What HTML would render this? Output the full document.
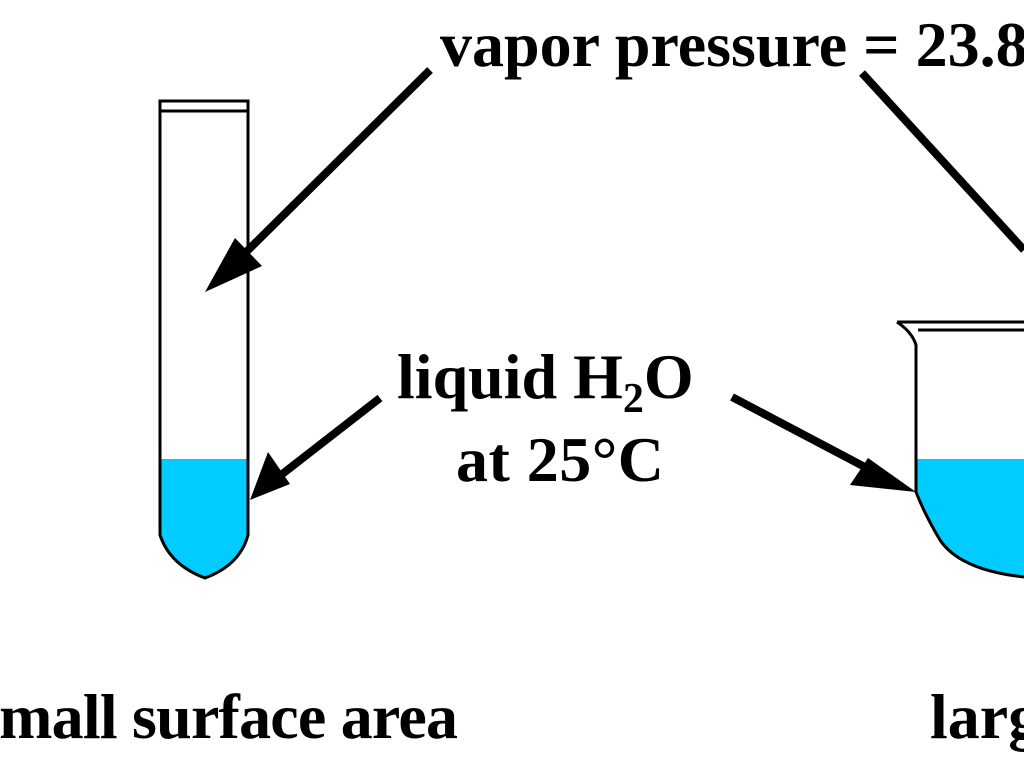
<!DOCTYPE html>
<html><head><style>
html,body{margin:0;padding:0;background:#fff;width:1024px;height:768px;overflow:hidden}
text{font-family:"Liberation Serif",serif;font-weight:bold;font-size:64px;fill:#000}
</style></head><body>
<svg width="1024" height="768" viewBox="0 0 1024 768" xmlns="http://www.w3.org/2000/svg">
<path d="M160 459 H248 V535 Q240 565 205 578 Q170 565 160 535 Z" fill="#00ccff"/>
<path d="M160 112 V535 Q170 565 205 578 Q240 565 248 535 V112" fill="none" stroke="#000" stroke-width="3"/>
<rect x="160" y="101" width="88" height="10" fill="none" stroke="#000" stroke-width="3"/>
<path d="M917 459 H1024 V577 Q960 570 940 540 Q925 515 917 492 Z" fill="#00ccff"/>
<path d="M897 322 H1024 M918 330 H1024 M897 322 Q912 332 916 345 V492 Q925 515 940 540 Q960 570 1024 577" fill="none" stroke="#000" stroke-width="3"/>
<g stroke="#000" stroke-width="8" fill="none">
<line x1="430" y1="70" x2="230" y2="268"/>
<line x1="380" y1="398" x2="272" y2="482"/>
<line x1="732" y1="397" x2="880" y2="475"/>
<line x1="862" y1="73" x2="1024" y2="250"/>
</g>
<g fill="#000">
<polygon points="205,292 235,238 262,266"/>
<polygon points="250,500 268,452 290,484"/>
<polygon points="916,492 868,458 850,485"/>
</g>
<text x="440" y="66">vapor pressure = 23.8 torr</text>
<text x="397" y="398">liquid H<tspan font-size="42" dy="14">2</tspan><tspan dy="-14">O</tspan></text>
<text x="456" y="481" textLength="208">at 25°C</text>
<text x="-25" y="738" font-size="62" textLength="483">small surface area</text>
<text x="930" y="738" font-size="62">large surface area</text>
</svg>
</body></html>
